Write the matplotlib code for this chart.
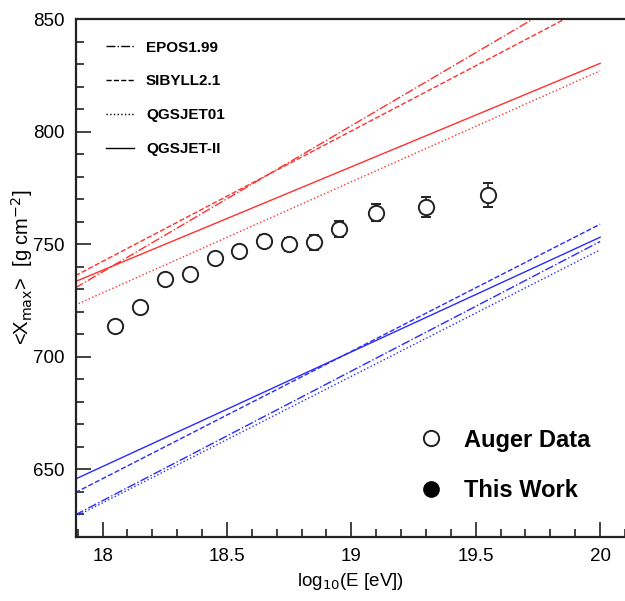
import matplotlib.pyplot as plt
import numpy as np
from matplotlib.lines import Line2D
from matplotlib.ticker import MultipleLocator

plt.rcParams.update({"font.family": ["Liberation Sans", "DejaVu Sans"], "font.size": 13})

# Auger data
auger_logE = [18.05, 18.15, 18.25, 18.35, 18.45, 18.55, 18.65, 18.75, 18.85, 18.95, 19.1, 19.3, 19.55]
auger_xmax = [713.8, 722.1, 734.6, 736.9, 744.0, 747.0, 751.6, 750.0, 750.8, 756.8, 764.0, 766.5, 771.9]
auger_err = [1.5, 1.7, 1.8, 2.0, 2.2, 2.4, 2.7, 2.9, 3.2, 3.6, 3.8, 4.4, 5.2]

# model predictions, straight lines between these energies
model_logE = [17.89, 20.0]
models = ["EPOS1.99", "SIBYLL2.1", "QGSJET01", "QGSJET-II"]
styles = ["-.", "--", ":", "-"]
proton = {
    "EPOS1.99": [730.6, 867.5],
    "SIBYLL2.1": [736.0, 858.2],
    "QGSJET01": [723.0, 827.0],
    "QGSJET-II": [733.4, 830.3],
}
iron = {
    "EPOS1.99": [629.8, 751.2],
    "SIBYLL2.1": [639.7, 758.9],
    "QGSJET01": [629.0, 747.5],
    "QGSJET-II": [645.7, 753.1],
}

fig = plt.figure(figsize=(6.25, 6.01), dpi=100)
ax = fig.add_axes([76 / 625, 1 - 537 / 601, 549 / 625, 518 / 601])

for m, ls in zip(models, styles):
    ax.plot(model_logE, proton[m], ls=ls, color="#ff3030", lw=1.0)
    ax.plot(model_logE, iron[m], ls=ls, color="#2a2aff", lw=1.0)

ax.errorbar(auger_logE, auger_xmax, yerr=auger_err, fmt="o", ms=11, mfc="white",
            mec="#222222", mew=1.4, ecolor="#222222", elinewidth=1.2, capsize=3.5,
            capthick=1.2, zorder=5)

ax.set_xlim(17.893, 20.1)
ax.set_ylim(620, 850)
ax.xaxis.set_major_locator(MultipleLocator(0.5))
ax.xaxis.set_minor_locator(MultipleLocator(0.1))
ax.yaxis.set_major_locator(MultipleLocator(50))
ax.yaxis.set_minor_locator(MultipleLocator(10))
ax.xaxis.set_major_formatter(plt.FuncFormatter(lambda v, p: f"{v:g}"))
ax.tick_params(which="both", direction="in", color="#222222", width=1.2,
               top=False, right=False, labelsize=13.5)
ax.tick_params(which="major", length=11, pad=8)
ax.tick_params(which="minor", length=6)
for s in ["left", "bottom", "top"]:
    ax.spines[s].set_linewidth(1.6)
    ax.spines[s].set_color("#222222")
ax.spines["right"].set_visible(False)

ax.set_xlabel(r"log$_{10}$(E [eV])", fontsize=13.5, labelpad=4)
ax.set_ylabel(r"<X$_{\rm max}$>  [g cm$^{-2}$]", fontsize=14.5, labelpad=-4)
ax.yaxis.set_label_coords(-0.075, 0.52)

# model legend
handles = [Line2D([], [], color="black", ls=ls, lw=1.0) for ls in styles]
leg1 = ax.legend(handles, models, loc="upper left", bbox_to_anchor=(0.03, 0.985),
                 frameon=False, handlelength=1.8, labelspacing=1.3,
                 prop={"weight": "bold", "size": 11})
ax.add_artist(leg1)

# data legend
h2 = [Line2D([], [], ls="", marker="o", ms=11, mfc="white", mec="#222222", mew=1.4),
      Line2D([], [], ls="", marker="o", ms=11, mfc="black", mec="black")]
ax.legend(h2, ["Auger Data", "This Work"], loc="lower right", bbox_to_anchor=(0.975, 0.027),
          frameon=False, handletextpad=0.4, labelspacing=1.15,
          prop={"weight": "bold", "size": 17})

fig.savefig("out.png", dpi=100)
